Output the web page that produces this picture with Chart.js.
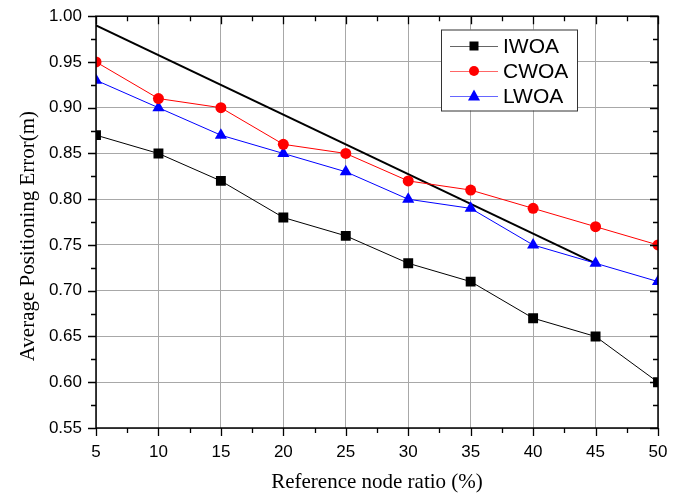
<!DOCTYPE html>
<html>
<head>
<meta charset="utf-8">
<script src="https://cdn.jsdelivr.net/npm/chart.js@4/dist/chart.umd.min.js"></script>
<style>
  html, body { margin: 0; padding: 0; background: #fff; }
  #wrap { width: 698px; height: 497px; }
</style>
</head>
<body>
<div id="wrap"><canvas id="c" width="698" height="497"></canvas></div>
<script>
// Reference node ratio (%) on the x axis
const ratios = [5, 10, 15, 20, 25, 30, 35, 40, 45, 50];
// Average positioning error (m) per algorithm
const iwoa = [0.87, 0.85, 0.82, 0.78, 0.76, 0.73, 0.71, 0.67, 0.65, 0.60];
const cwoa = [0.95, 0.91, 0.90, 0.86, 0.85, 0.82, 0.81, 0.79, 0.77, 0.75];
const lwoa = [0.93, 0.90, 0.87, 0.85, 0.83, 0.80, 0.79, 0.75, 0.73, 0.71];
// Straight trend guide line
const trendX = [5, 45];
const trendY = [0.99, 0.73];

const yTicks = [0.55, 0.60, 0.65, 0.70, 0.75, 0.80, 0.85, 0.90, 0.95, 1.00];
const xTicks = ratios;

const pts = (xs, ys) => xs.map((x, i) => ({ x, y: ys[i] }));

const series = [
  { label: 'IWOA', color: '#000000', style: 'rect', radius: 7, values: iwoa },
  { label: 'CWOA', color: '#ff0000', style: 'circle', radius: 5.5, values: cwoa },
  { label: 'LWOA', color: '#0000ff', style: 'triangle', radius: 7, values: lwoa }
];

const datasets = series.map(s => ({
  label: s.label,
  data: pts(ratios, s.values),
  borderColor: s.color,
  backgroundColor: s.color,
  borderWidth: 1,
  pointStyle: s.style,
  pointRadius: s.radius,
  pointBorderWidth: 0,
  pointBackgroundColor: s.color,
  tension: 0,
  clip: 0
}));
datasets.push({
  label: '',
  data: pts(trendX, trendY),
  borderColor: '#000000',
  borderWidth: 2,
  pointRadius: 0,
  tension: 0,
  clip: 0
});

// Axis frame, major/minor ticks, axis titles and the legend box
const decor = {
  id: 'decor',
  afterDraw(chart) {
    const { ctx, chartArea: a, scales: { x, y } } = chart;
    ctx.save();
    ctx.strokeStyle = '#000';
    ctx.lineWidth = 1.5;
    ctx.strokeRect(a.left, a.top, a.right - a.left, a.bottom - a.top);

    ctx.lineWidth = 1.3;
    ctx.beginPath();
    // x ticks: outward at bottom, inward at top
    for (let v = 5; v <= 50.001; v += 2.5) {
      const px = Math.round(x.getPixelForValue(v)) + 0.5;
      const major = Math.abs(v / 5 - Math.round(v / 5)) < 1e-6;
      const len = major ? 8 : 5;
      ctx.moveTo(px, a.bottom); ctx.lineTo(px, a.bottom + len);
      ctx.moveTo(px, a.top); ctx.lineTo(px, a.top + len);
    }
    // y ticks: outward at left, inward at right
    for (let v = 0.55; v <= 1.0001; v += 0.025) {
      const py = Math.round(y.getPixelForValue(v)) + 0.5;
      const major = Math.abs(v / 0.05 - Math.round(v / 0.05)) < 1e-6;
      const len = major ? 8 : 5;
      ctx.moveTo(a.left, py); ctx.lineTo(a.left - len, py);
      ctx.moveTo(a.right, py); ctx.lineTo(a.right - len, py);
    }
    ctx.stroke();

    // axis titles
    ctx.fillStyle = '#000';
    ctx.font = '21px "Liberation Serif", "Times New Roman", serif';
    ctx.textAlign = 'center';
    ctx.textBaseline = 'middle';
    ctx.fillText('Reference node ratio (%)', (a.left + a.right) / 2, 482);
    ctx.save();
    ctx.translate(28, (a.top + a.bottom) / 2 + 14);
    ctx.rotate(-Math.PI / 2);
    ctx.fillText('Average Positioning Error(m)', 0, 0);
    ctx.restore();

    // legend
    const bx = 441, by = 29.5, bw = 136, bh = 81;
    ctx.fillStyle = '#fff';
    ctx.fillRect(bx, by, bw, bh);
    ctx.lineWidth = 1;
    ctx.strokeStyle = '#333';
    ctx.strokeRect(bx + 0.5, by + 0.5, bw, bh);
    const rows = [46, 71, 96];
    ctx.font = '21px "Liberation Sans", Arial, sans-serif';
    ctx.textAlign = 'left';
    series.forEach((s, i) => {
      const ry = rows[i];
      ctx.strokeStyle = s.color;
      ctx.globalAlpha = 0.6;
      ctx.lineWidth = 1;
      ctx.beginPath();
      ctx.moveTo(450, ry + 0.5); ctx.lineTo(498, ry + 0.5);
      ctx.stroke();
      ctx.globalAlpha = 1;
      ctx.fillStyle = s.color;
      ctx.beginPath();
      if (s.style === 'rect') ctx.rect(469.5, ry - 4.5, 9, 9);
      else if (s.style === 'circle') ctx.arc(474, ry, 5, 0, Math.PI * 2);
      else { ctx.moveTo(474, ry - 6.5); ctx.lineTo(480, ry + 4.5); ctx.lineTo(468, ry + 4.5); ctx.closePath(); }
      ctx.fill();
      ctx.fillStyle = '#000';
      ctx.fillText(s.label, 503, ry + 1);
    });
    ctx.restore();
  }
};

new Chart(document.getElementById('c'), {
  type: 'line',
  data: { datasets },
  options: {
    responsive: false,
    animation: false,
    layout: { padding: { left: 0, right: 40, top: 10, bottom: 0 } },
    plugins: { legend: { display: false }, tooltip: { enabled: false } },
    scales: {
      x: {
        type: 'linear',
        min: 5, max: 50,
        afterBuildTicks: s => { s.ticks = xTicks.map(v => ({ value: v })); },
        afterFit: s => { s.height = 69; },
        grid: { color: '#a8a8a8', lineWidth: 1, tickLength: 8, tickColor: 'rgba(0,0,0,0)' },
        border: { display: false },
        ticks: {
          color: '#000',
          padding: 6,
          maxRotation: 0,
          font: { family: '"Liberation Sans", Arial, sans-serif', size: 17 },
          callback: v => String(v)
        }
      },
      y: {
        type: 'linear',
        min: 0.55, max: 1.0,
        afterBuildTicks: s => { s.ticks = yTicks.map(v => ({ value: v })); },
        afterFit: s => { s.width = 96; },
        grid: { color: '#a8a8a8', lineWidth: 1, tickLength: 8, tickColor: 'rgba(0,0,0,0)' },
        border: { display: false },
        ticks: {
          color: '#000',
          padding: 6,
          font: { family: '"Liberation Sans", Arial, sans-serif', size: 17 },
          callback: v => Number(v).toFixed(2)
        }
      }
    }
  },
  plugins: [decor]
});
</script>
</body>
</html>
